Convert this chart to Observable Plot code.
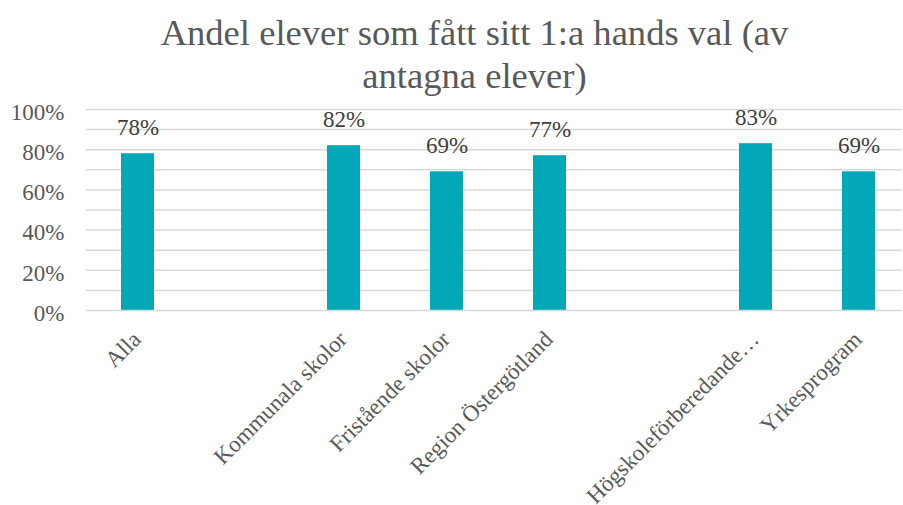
<!DOCTYPE html>
<html>
<head>
<meta charset="utf-8">
<script src="https://cdn.jsdelivr.net/npm/d3@7"></script>
<script src="https://cdn.jsdelivr.net/npm/@observablehq/plot@0.6"></script>
<style>
  body { margin: 0; background: #fff; }
  #wrap { width: 903px; height: 505px; overflow: hidden; }
  #title { height: 96px; box-sizing: border-box; padding-top: 11px; padding-left: 46px; text-align: center; font-family: "Liberation Serif", "Times New Roman", serif; font-size: 36.6px; line-height: 43px; color: #595959; white-space: nowrap; }
  svg { display: block; }
</style>
</head>
<body>
<div id="wrap">
  <div id="title">Andel elever som fått sitt 1:a hands val (av<br>antagna elever)</div>
  <div id="chart"></div>
</div>
<script>
const categories = ["Alla", "", "Kommunala skolor", "Fristående skolor", "Region Östergötland", " ", "Högskoleförberedande…", "Yrkesprogram"];
const values = [0.78, null, 0.82, 0.69, 0.77, null, 0.83, 0.69];
const yTicks = [0, 0.2, 0.4, 0.6, 0.8, 1.0];
const gridTicks = [0.1, 0.2, 0.3, 0.4, 0.5, 0.6, 0.7, 0.8, 0.9, 1.0];

const data = categories.map((c, i) => ({cat: c, v: values[i]}));
const bars = data.filter(d => d.v != null);
const font = '"Liberation Serif", "Times New Roman", serif';

const chart = Plot.plot({
  width: 903,
  height: 409,
  marginTop: 13,
  marginLeft: 86,
  marginRight: 1,
  marginBottom: 195,
  style: {fontFamily: font, background: "#fff"},
  x: {domain: categories, range: [86, 910], paddingInner: 0.68, paddingOuter: 0.34, label: null},
  y: {domain: [0, 1], label: null},
  marks: [
    Plot.ruleY(gridTicks, {stroke: "#d9d9d9", strokeWidth: 1.5}),
    Plot.barY(bars, {x: "cat", y: "v", fill: "#02a7b8"}),
    Plot.ruleY([0], {stroke: "#d9d9d9", strokeWidth: 1.5}),
    Plot.text(bars, {x: "cat", y: "v", text: d => Math.round(d.v * 100) + "%", dy: -26, fontSize: 23, fill: "#404040"}),
    Plot.axisY({ticks: yTicks, tickFormat: d => Math.round(d * 100) + "%", tickSize: 0, tickPadding: 22, dy: 3, fontSize: 23, color: "#595959", label: null}),
    Plot.axisX({tickRotate: -45, tickSize: 0, tickPadding: 25, dx: -1, fontSize: 23, color: "#595959", label: null})
  ]
});
document.getElementById("chart").appendChild(chart);
</script>
</body>
</html>
